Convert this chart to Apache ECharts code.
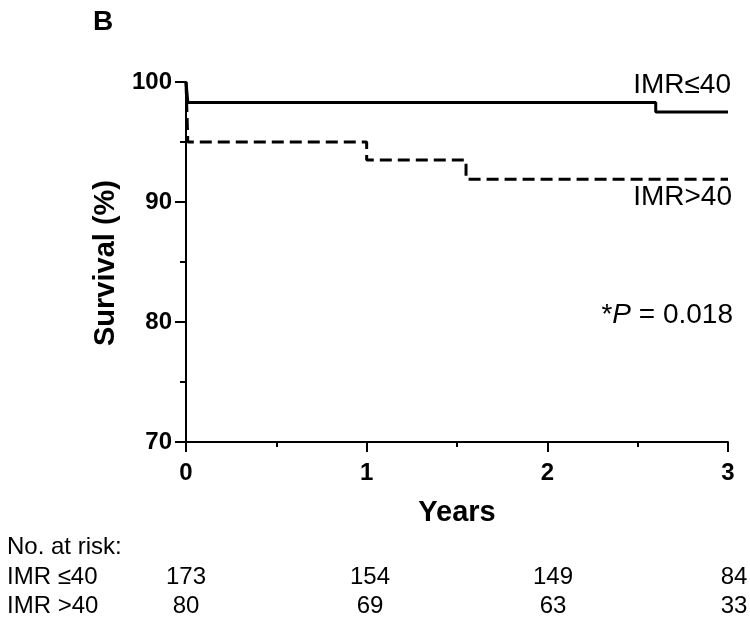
<!DOCTYPE html>
<html><head><meta charset="utf-8">
<script src="https://cdn.jsdelivr.net/npm/echarts@6/dist/echarts.min.js"></script>
<style>html,body{margin:0;padding:0;background:#fff}#c{width:750px;height:622px}</style>
</head><body><div id="c"></div>
<script>
// ---- data ----
const lowImrTimes = [0, 0.01, 2.6, 3];
const lowImrSurvival = [100, 98.3, 97.5, 97.5];
const highImrTimes = [0, 0.01, 1.0, 1.55, 3];
const highImrSurvival = [100, 95.0, 93.5, 91.9, 91.9];
const xTickValues = [0, 1, 2, 3];
const yTickValues = [70, 80, 90, 100];
const curveLabels = ['IMR\u226440', 'IMR>40'];
const riskTitle = 'No. at risk:';
const riskRowLabels = ['IMR \u226440', 'IMR >40'];
const riskLow = [173, 154, 149, 84];
const riskHigh = [80, 69, 63, 33];
const pValueText = '0.018';
const panelLabel = 'B';
const xName = 'Years';
const yName = 'Survival (%)';

// ---- layout (not data) ----
const FONT = "'Liberation Sans', Arial, Helvetica, sans-serif";
const riskX = [186, 370, 553, 734];
const riskRowY = [577.5, 606.5];

const chart = echarts.init(document.getElementById('c'), null, {renderer: 'canvas'});
const pairs = (xs, ys) => xs.map((x, i) => [x, ys[i]]);

const graphics = [];
const txt = (text, x, y, opt) => graphics.push(Object.assign({
  type: 'text', x, y, silent: true,
  style: Object.assign({text, fill: '#000', font: '24px ' + FONT, textAlign: 'left', textVerticalAlign: 'middle'}, opt || {})
}));
txt(panelLabel, 93, 22, {font: 'bold 28px ' + FONT});
txt(curveLabels[0], 731, 85, {font: '28px ' + FONT, textAlign: 'right'});
txt(curveLabels[1], 732, 197, {font: '28px ' + FONT, textAlign: 'right'});
graphics.push({
  type: 'text', x: 733, y: 315, silent: true,
  style: {
    text: '{a|*}{i|P}{a| = ' + pValueText + '}', textAlign: 'right', textVerticalAlign: 'middle',
    rich: {
      a: {fontSize: 28, fontFamily: FONT, fill: '#000', color: '#000'},
      i: {fontSize: 28, fontFamily: FONT, fontStyle: 'italic', fill: '#000', color: '#000'}
    }
  }
});
txt(xName, 457, 513, {font: 'bold 29px ' + FONT, textAlign: 'center'});
graphics.push({
  type: 'text', x: 106, y: 263, rotation: Math.PI / 2, silent: true,
  style: {text: yName, fill: '#000', font: 'bold 29px ' + FONT, textAlign: 'center', textVerticalAlign: 'middle'}
});
txt(riskTitle, 7, 547.5);
riskRowLabels.forEach((l, i) => txt(l, 7, riskRowY[i]));
[riskLow, riskHigh].forEach((row, r) => row.forEach((v, i) =>
  txt(String(v), riskX[i], riskRowY[r], {textAlign: 'center'})));

const axisCommon = {
  axisLine: {show: true, onZero: false, lineStyle: {color: '#000', width: 2}},
  splitLine: {show: false},
  minorSplitLine: {show: false},
};

chart.setOption({
  animation: false,
  backgroundColor: '#fff',
  grid: {left: 186, right: 22, top: 82, bottom: 180, containLabel: false},
  xAxis: Object.assign({
    type: 'value', min: xTickValues[0], max: xTickValues[xTickValues.length - 1], interval: 1,
    axisTick: {show: true, length: 10, lineStyle: {color: '#000', width: 2}},
    minorTick: {show: true, splitNumber: 2, length: 5, lineStyle: {color: '#000', width: 2}},
    axisLabel: {color: '#000', fontWeight: 'bold', fontSize: 24, fontFamily: FONT, margin: 19,
      formatter: v => xTickValues.includes(v) ? String(v) : ''}
  }, axisCommon),
  yAxis: Object.assign({
    type: 'value', min: yTickValues[0], max: yTickValues[yTickValues.length - 1], interval: 10,
    axisTick: {show: true, length: 11, lineStyle: {color: '#000', width: 2}},
    minorTick: {show: true, splitNumber: 2, length: 6, lineStyle: {color: '#000', width: 2}},
    axisLabel: {color: '#000', fontWeight: 'bold', fontSize: 24, fontFamily: FONT, margin: 14,
      formatter: v => yTickValues.includes(v) ? String(v) : ''}
  }, axisCommon),
  series: [
    {type: 'line', step: 'end', symbol: 'none', data: pairs(lowImrTimes, lowImrSurvival),
      lineStyle: {color: '#000', width: 3, type: 'solid', cap: 'butt'}},
    {type: 'line', step: 'end', symbol: 'none', data: pairs(highImrTimes, highImrSurvival),
      lineStyle: {color: '#000', width: 3, type: [12, 6], cap: 'butt'}}
  ],
  graphic: graphics
});
</script>
</body></html>
